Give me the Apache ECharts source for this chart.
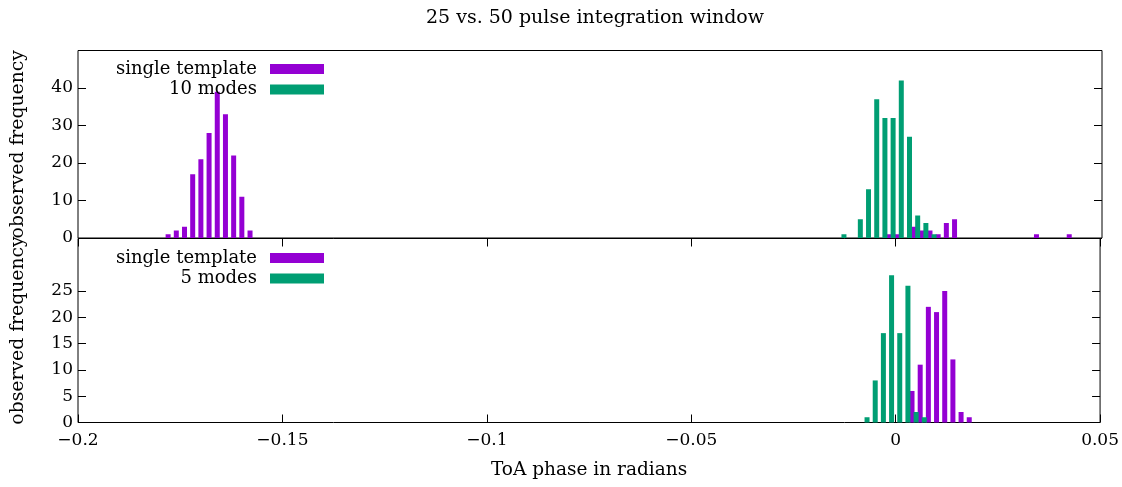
<!DOCTYPE html>
<html>
<head>
<meta charset="utf-8">
<script src="https://cdn.jsdelivr.net/npm/echarts@6/dist/echarts.min.js"></script>
<style>
  html, body { margin: 0; padding: 0; background: #fff; }
  #chart { width: 1122px; height: 487px; }
</style>
</head>
<body>
<div id="chart"></div>
<script>
// ToA phase histograms (bin centres in radians, counts per bin)
const topSingleX     = [-0.178, -0.176, -0.174, -0.172, -0.170, -0.168, -0.166, -0.164, -0.162, -0.160, -0.158,
                        -0.002, 0.000, 0.004, 0.006, 0.008, 0.010, 0.012, 0.014, 0.034, 0.042];
const topSingleCount = [1, 2, 3, 17, 21, 28, 39, 33, 22, 11, 2,
                        1, 1, 3, 2, 2, 1, 4, 5, 1, 1];
const topModesX      = [-0.013, -0.009, -0.007, -0.005, -0.003, -0.001, 0.001, 0.003, 0.005, 0.007, 0.009];
const topModesCount  = [1, 5, 13, 37, 32, 32, 42, 27, 6, 4, 1];

const botSingleX     = [0.004, 0.006, 0.008, 0.010, 0.012, 0.014, 0.016, 0.018];
const botSingleCount = [6, 11, 22, 21, 25, 12, 2, 1];
const botModesX      = [-0.007, -0.005, -0.003, -0.001, 0.001, 0.003, 0.005, 0.007];
const botModesCount  = [1, 8, 17, 28, 17, 26, 2, 1];

const xTickLabels   = ['\u22120.2', '\u22120.15', '\u22120.1', '\u22120.05', '0', '0.05'];
const topYTicks     = [0, 10, 20, 30, 40];
const botYTicks     = [0, 5, 10, 15, 20, 25];

const PURPLE = '#9400d3';
const GREEN = '#009e73';
const SERIF = '"DejaVu Serif", "Liberation Serif", serif';

const pairs = (xs, ys) => xs.map((x, i) => [x, ys[i]]);

const chart = echarts.init(document.getElementById('chart'), null, { renderer: 'canvas' });

const tickStyle = { show: true, inside: true, length: 8, lineStyle: { color: '#000', width: 1 } };
const labelFont = { fontFamily: SERIF, fontSize: 17, color: '#000' };
const noLine = { show: false, onZero: false };

function legendFor(names, top) {
  return {
    data: names,
    orient: 'vertical',
    align: 'right',
    left: 102,
    top: top,
    icon: 'rect',
    itemWidth: 54,
    itemHeight: 10,
    itemGap: 0.5,
    selectedMode: false,
    textStyle: {
      fontFamily: SERIF, fontSize: 18, color: '#000',
      width: 150, align: 'right', lineHeight: 20, padding: [0, 8, 0, 0]
    }
  };
}

chart.setOption({
  animation: false,
  backgroundColor: '#fff',
  title: {
    text: '25 vs. 50 pulse integration window',
    left: 590, textAlign: 'center', top: 4,
    textStyle: { fontFamily: SERIF, fontSize: 19, fontWeight: 'normal', color: '#000' }
  },
  legend: [
    legendFor(['single template', '10 modes'], 54),
    legendFor(['single template', '5 modes'], 243)
  ],
  grid: [
    { left: 78, right: 20, top: 50.5, height: 187.5, show: true, borderColor: '#000', borderWidth: 1, containLabel: false },
    { left: 78, right: 20, top: 238.5, height: 184, show: true, borderColor: '#000', borderWidth: 1, containLabel: false }
  ],
  xAxis: [
    { gridIndex: 0, type: 'value', min: -0.2, max: 0.05, interval: 0.05,
      axisLine: noLine, axisTick: { show: false }, axisLabel: { show: false }, splitLine: { show: false } },
    { gridIndex: 1, type: 'value', position: 'bottom', min: -0.2, max: 0.05, interval: 0.05,
      axisLine: noLine, axisTick: tickStyle, splitLine: { show: false },
      axisLabel: Object.assign({ margin: 10, formatter: (v, i) => xTickLabels[i] }, labelFont),
      name: 'ToA phase in radians', nameLocation: 'middle', nameGap: 38,
      nameTextStyle: { fontFamily: SERIF, fontSize: 18.5, color: '#000' } },
    { gridIndex: 1, type: 'value', position: 'top', min: -0.2, max: 0.05, interval: 0.05,
      axisLine: noLine, axisTick: tickStyle, axisLabel: { show: false }, splitLine: { show: false } }
  ],
  yAxis: [
    { gridIndex: 0, type: 'value', position: 'left', min: 0, max: 50,
      axisLine: noLine, splitLine: { show: false },
      axisTick: Object.assign({ customValues: topYTicks }, tickStyle),
      axisLabel: Object.assign({ margin: 5, customValues: topYTicks }, labelFont),
      name: 'observed frequency', nameLocation: 'middle', nameGap: 50, nameRotate: 90,
      nameTextStyle: { fontFamily: SERIF, fontSize: 18.8, color: '#000' } },
    { gridIndex: 0, type: 'value', position: 'right', min: 0, max: 50,
      axisLine: noLine, splitLine: { show: false }, axisLabel: { show: false },
      axisTick: Object.assign({ customValues: topYTicks }, tickStyle) },
    { gridIndex: 1, type: 'value', position: 'left', min: 0, max: 35,
      axisLine: noLine, splitLine: { show: false },
      axisTick: Object.assign({ customValues: botYTicks }, tickStyle),
      axisLabel: Object.assign({ margin: 5, customValues: botYTicks }, labelFont),
      name: 'observed frequency', nameLocation: 'middle', nameGap: 50, nameRotate: 90,
      nameTextStyle: { fontFamily: SERIF, fontSize: 18.8, color: '#000' } },
    { gridIndex: 1, type: 'value', position: 'right', min: 0, max: 35,
      axisLine: noLine, splitLine: { show: false }, axisLabel: { show: false },
      axisTick: Object.assign({ customValues: botYTicks }, tickStyle) }
  ],
  series: [
    { name: 'single template', type: 'bar', xAxisIndex: 0, yAxisIndex: 0, barWidth: 5, barGap: '-100%',
      itemStyle: { color: PURPLE }, data: pairs(topSingleX, topSingleCount) },
    { name: '10 modes', type: 'bar', xAxisIndex: 0, yAxisIndex: 0, barWidth: 5, barGap: '-100%',
      itemStyle: { color: GREEN }, data: pairs(topModesX, topModesCount) },
    { name: 'single template', type: 'bar', xAxisIndex: 1, yAxisIndex: 2, barWidth: 5, barGap: '-100%',
      itemStyle: { color: PURPLE }, data: pairs(botSingleX, botSingleCount) },
    { name: '5 modes', type: 'bar', xAxisIndex: 1, yAxisIndex: 2, barWidth: 5, barGap: '-100%',
      itemStyle: { color: GREEN }, data: pairs(botModesX, botModesCount) }
  ]
});
</script>
</body>
</html>
